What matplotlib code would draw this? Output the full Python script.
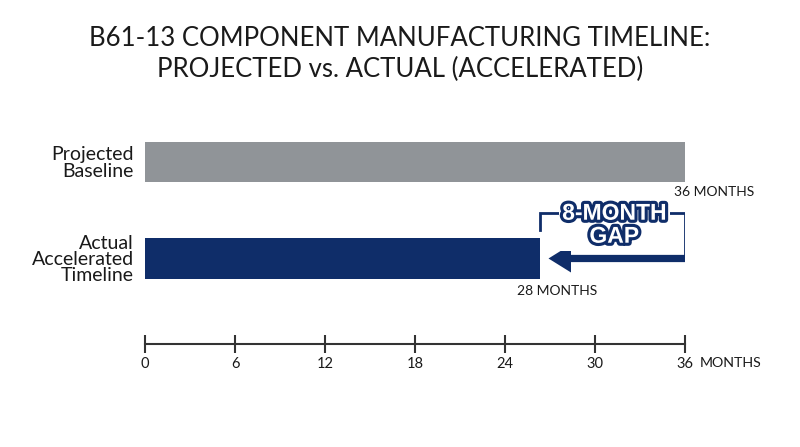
import matplotlib
matplotlib.use("Agg")
import matplotlib.pyplot as plt
import matplotlib.patheffects as pe

plt.rcParams['font.family'] = ['Lato', 'DejaVu Sans']

# data
categories = ['Projected\nBaseline', 'Actual\nAccelerated\nTimeline']
bar_months = [36, 26.35]           # where the bars end on the month axis
value_labels = ['36 MONTHS', '28 MONTHS']
gap_label = '8-MONTH\nGAP'
month_ticks = [0, 6, 12, 18, 24, 30, 36]

GRAY = '#909498'
NAVY = '#0f2d69'
INK = '#1a1a1a'

fig = plt.figure(figsize=(8, 4.47), dpi=100)
ax = fig.add_axes([145 / 800, 1 - 344 / 447, 540 / 800, 224 / 447])

y_pos = [1, 0]
bar_h = 0.415
ax.barh(y_pos, bar_months, height=bar_h, color=[GRAY, NAVY], zorder=2)
ax.set_xlim(0, 36)
ax.set_ylim(-0.886, 1.435)

ax.set_yticks(y_pos)
ax.set_yticklabels(categories, fontsize=14, color=INK, linespacing=0.95)
ax.tick_params(axis='y', length=0, pad=8)

ax.set_xticks(month_ticks)
ax.set_xticklabels([str(t) for t in month_ticks], fontsize=10.5, color=INK)
ax.tick_params(axis='x', direction='inout', length=13, width=1.5,
               color='#333333', pad=3)
for s in ['top', 'right', 'left']:
    ax.spines[s].set_visible(False)
ax.spines['bottom'].set_color('#333333')
ax.spines['bottom'].set_linewidth(1.5)
ax.annotate('MONTHS', xy=(36, -0.886), xycoords='data',
            xytext=(15, -19), textcoords='offset pixels',
            ha='left', va='center', fontsize=10.2, color=INK)

# value labels under bar ends
ax.annotate(value_labels[0], xy=(bar_months[0], y_pos[0] - bar_h / 2),
            xytext=(-11, -4), textcoords='offset pixels',
            ha='left', va='top', fontsize=10, color=INK)
ax.annotate(value_labels[1], xy=(bar_months[1], y_pos[1] - bar_h / 2),
            xytext=(17, -6), textcoords='offset pixels',
            ha='center', va='top', fontsize=10, color=INK)

# gap bracket + arrow
x0, x1 = bar_months[1], bar_months[0]
top_y = 0.47
ax.plot([x0, x0, x1, x1], [0.295, top_y, top_y, 0.0], color=NAVY,
        lw=2, solid_joinstyle='miter', zorder=3)
tip = x0 + 0.55
ax.arrow(x1, 0, tip - x1, 0, width=0.075, head_width=0.29,
         head_length=1.5, length_includes_head=True, color=NAVY,
         lw=0, zorder=3)

ax.text((x0 + x1) / 2 + 0.1, 0.35, gap_label, ha='center', va='center',
        fontsize=16.5, fontweight='bold', color='white',
        family=['Liberation Sans', 'DejaVu Sans'], linespacing=1.0,
        zorder=4,
        path_effects=[pe.withStroke(linewidth=4.5, foreground=NAVY)],
        bbox=dict(boxstyle='square,pad=0.15', fc='white', ec='none'))

fig.text(0.5, 1 - 54 / 447,
         'B61-13 COMPONENT MANUFACTURING TIMELINE:\nPROJECTED vs. ACTUAL (ACCELERATED)',
         ha='center', va='center', fontsize=18.5, color=INK, linespacing=1.25)

fig.savefig('out.png', dpi=100)
